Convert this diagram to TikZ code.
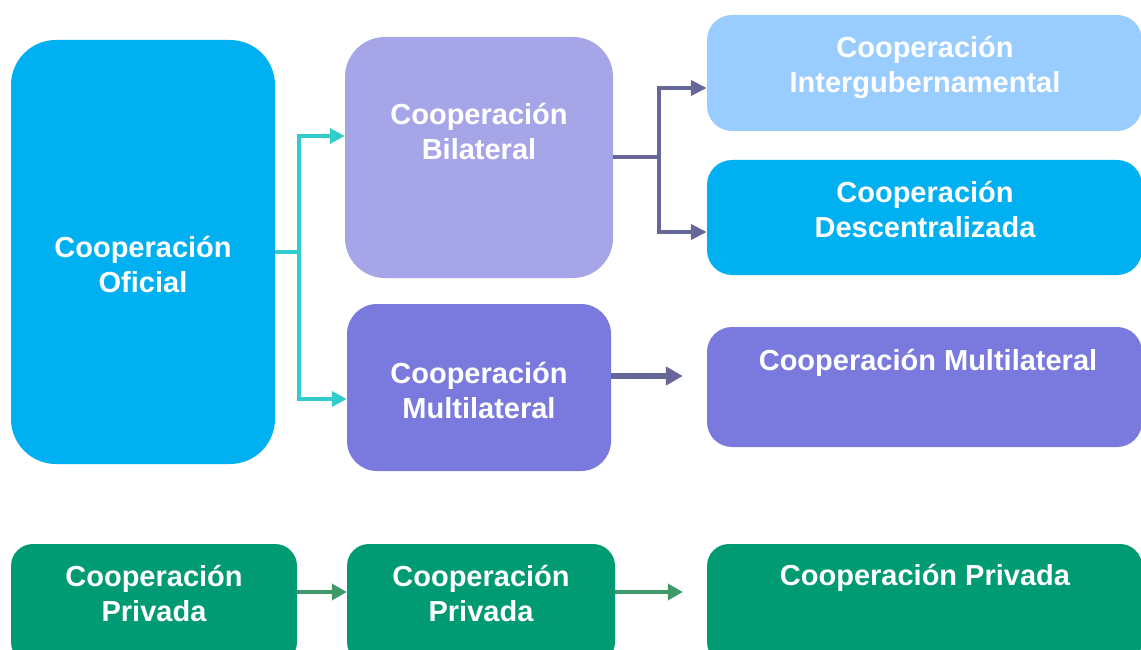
\documentclass[tikz,border=0pt]{standalone}
\usepackage{fontspec}
\setmainfont{Liberation Sans}
\usetikzlibrary{arrows.meta}

\definecolor{azulOf}{HTML}{00B0F0}
\definecolor{lilaBil}{HTML}{A5A5E8}
\definecolor{lilaMul}{HTML}{7A7ADE}
\definecolor{celeste}{HTML}{99CCFF}
\definecolor{verdePr}{HTML}{009A73}
\definecolor{turquesa}{HTML}{33CCCC}
\definecolor{grisLila}{HTML}{666699}
\definecolor{verdeFl}{HTML}{3D9B6B}

\tikzset{
  caja/.style={rectangle, draw=none, inner sep=0pt},
  texto/.style={text=white, align=center, inner sep=0pt,
    font=\bfseries\fontsize{29}{35}\selectfont},
  flechaT/.style={draw=turquesa, line width=4pt, -{Triangle[length=15pt,width=15pt]}},
  flechaL/.style={draw=grisLila, line width=4pt, -{Triangle[length=16pt,width=15pt]}},
  flechaV/.style={draw=verdeFl, line width=4pt, -{Triangle[length=15pt,width=16pt]}}
}

\begin{document}
\begin{tikzpicture}[x=1pt,y=-1pt]
  \useasboundingbox (0,0) rectangle (1141,650);
  \fill[white] (0,0) rectangle (1141,650);
  \clip (0,0) rectangle (1141,650);

  % cajas
  \node[caja, fill=azulOf, minimum width=264pt, minimum height=424pt, rounded corners=45pt] (ofi) at (143,252) {};
  \node[caja, fill=lilaBil, minimum width=268pt, minimum height=241pt, rounded corners=40pt] (bil) at (479,157.5) {};
  \node[caja, fill=lilaMul, minimum width=264pt, minimum height=167pt, rounded corners=30pt] (mul) at (479,387.5) {};
  \node[caja, fill=celeste, minimum width=435pt, minimum height=116pt, rounded corners=25pt] (inter) at (924.5,73) {};
  \node[caja, fill=azulOf, minimum width=435pt, minimum height=115pt, rounded corners=25pt] (desc) at (924.5,217.5) {};
  \node[caja, fill=lilaMul, minimum width=435pt, minimum height=120pt, rounded corners=25pt] (mulr) at (924.5,387) {};
  \node[caja, fill=verdePr, minimum width=286pt, minimum height=120pt, rounded corners=22pt] (priv1) at (154,604) {};
  \node[caja, fill=verdePr, minimum width=268pt, minimum height=120pt, rounded corners=22pt] (priv2) at (481,604) {};
  \node[caja, fill=verdePr, minimum width=435pt, minimum height=120pt, rounded corners=22pt] (priv3) at (924.5,604) {};

  % textos
  \node[texto] (ofiT) at (143,265) {Cooperación\\Oficial};
  \node[texto] (bilT) at (479,132) {Cooperación\\Bilateral};
  \node[texto] (mulT) at (479,391) {Cooperación\\Multilateral};
  \node[texto] (interT) at (925,67) {Cooperación\\Intergubernamental};
  \node[texto] (descT) at (925,210) {Cooperación\\Descentralizada};
  \node[texto] (mulrT) at (928,363) {Cooperación Multilateral};
  \node[texto] (priv1T) at (154,594) {Cooperación\\Privada};
  \node[texto] (priv2T) at (481,594) {Cooperación\\Privada};
  \node[texto] (priv3T) at (925,578) {Cooperación Privada};

  % conectores
  \draw[flechaT] (ofi.east) -- ++(24,0) |- ([yshift=21.5pt]bil.west);
  \draw[flechaT] (ofi.east) -- ++(24,0) |- ([yshift=-11.5pt]mul.west);
  \draw[flechaL] (bil.east) -- ++(46,0) |- ([yshift=-15pt]inter.west);
  \draw[flechaL] (bil.east) -- ++(46,0) |- ([yshift=-14.5pt]desc.west);
  \draw[draw=grisLila, line width=6pt, -{Triangle[length=17pt,width=18pt]}]
    ([yshift=11.5pt]mul.east) -- ([shift={(-24pt,11pt)}]mulr.west);
  \draw[flechaV] ([yshift=12pt]priv1.east) -- ([yshift=12pt]priv2.west);
  \draw[flechaV] ([yshift=12pt]priv2.east) -- ([shift={(-24pt,12pt)}]priv3.west);
\end{tikzpicture}
\end{document}
